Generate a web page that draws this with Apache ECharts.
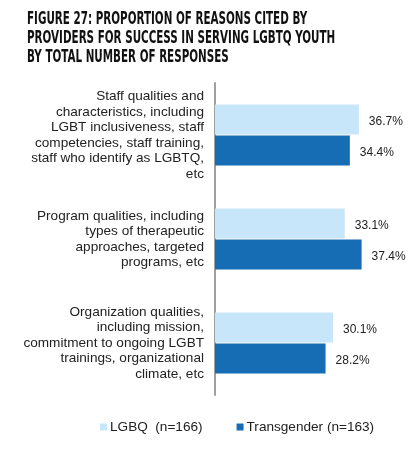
<!DOCTYPE html>
<html>
<head>
<meta charset="utf-8">
<script src="https://cdn.jsdelivr.net/npm/echarts@6/dist/echarts.min.js"></script>
<style>
  html, body { margin: 0; padding: 0; background: #fff; }
  #chart { width: 415px; height: 453px; }
</style>
</head>
<body>
<div id="chart"></div>
<script>
// categories, top to bottom
const categories = [
  "Staff qualities and\ncharacteristics, including\nLGBT inclusiveness, staff\ncompetencies, staff training,\nstaff who identify as LGBTQ,\netc",
  "Program qualities, including\ntypes of therapeutic\napproaches, targeted\nprograms, etc",
  "Organization qualities,\nincluding mission,\ncommitment to ongoing LGBT\ntrainings, organizational\nclimate, etc"
];
const seriesNames = ["LGBQ  (n=166)", "Transgender (n=163)"];
const lgbqValues = [36.7, 33.1, 30.1];
const transValues = [34.4, 37.4, 28.2];

const titleLines = [
  "FIGURE 27: PROPORTION OF REASONS CITED BY",
  "PROVIDERS FOR SUCCESS IN SERVING LGBTQ YOUTH",
  "BY TOTAL NUMBER OF RESPONSES"
];

const chart = echarts.init(document.getElementById("chart"));

const labelStyle = {
  show: true,
  position: "right",
  distance: 10,
  fontSize: 12,
  color: "#222",
  fontFamily: "Liberation Sans, Arial, sans-serif",
  offset: [0, 2],
  formatter: (p) => p.value.toFixed(1) + "%"
};

chart.setOption({
  animation: false,
  graphic: [
    {
      type: "text",
      left: 27,
      top: 10,
      scaleX: 0.64,
      style: {
        text: titleLines.join("\n"),
        fontSize: 18,
        lineHeight: 19,
        fontWeight: "bold",
        fontFamily: "DejaVu Sans Condensed, DejaVu Sans, sans-serif",
        fill: "#111"
      }
    }
  ],
  grid: {
    left: 215,
    top: 83,
    width: 196,
    height: 312
  },
  legend: {
    left: 95,
    top: 415,
    itemWidth: 7,
    itemHeight: 7,
    itemGap: 34,
    icon: "rect",
    textStyle: {
      fontSize: 13.6,
      color: "#222",
      fontFamily: "Liberation Sans, Arial, sans-serif",
      padding: [0, 0, 0, -2]
    },
    data: seriesNames
  },
  xAxis: {
    type: "value",
    min: 0,
    max: 50,
    show: false
  },
  yAxis: {
    type: "category",
    inverse: true,
    data: categories,
    axisLine: { show: true, lineStyle: { color: "#a0a0a0", width: 2 } },
    axisTick: { show: false },
    axisLabel: {
      margin: 11,
      fontSize: 13.6,
      lineHeight: 15.5,
      color: "#222",
      align: "right",
      fontFamily: "Liberation Sans, Arial, sans-serif"
    }
  },
  series: [
    {
      name: seriesNames[0],
      type: "bar",
      data: lgbqValues,
      barWidth: 30,
      barGap: "3%",
      itemStyle: { color: "#c8e6fa" },
      label: labelStyle
    },
    {
      name: seriesNames[1],
      type: "bar",
      data: transValues,
      barWidth: 30,
      itemStyle: { color: "#176db3" },
      label: labelStyle
    }
  ]
});
</script>
</body>
</html>
